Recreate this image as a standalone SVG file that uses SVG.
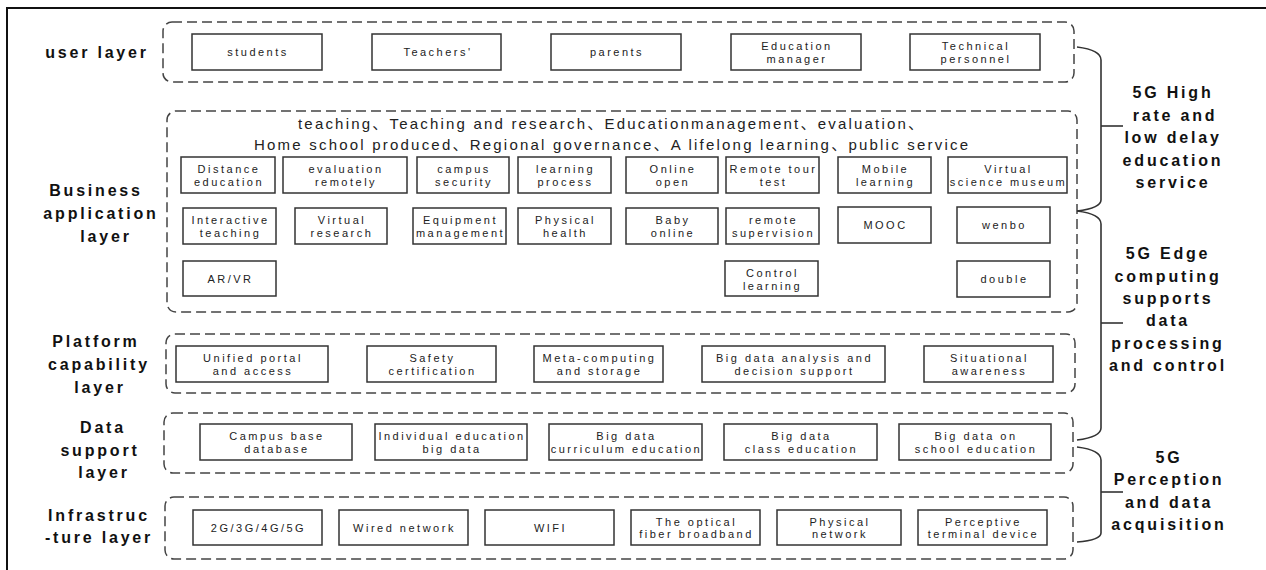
<svg xmlns="http://www.w3.org/2000/svg" width="1266" height="570" viewBox="0 0 1266 570">
<style>
.frame{fill:none;stroke:#111;stroke-width:2}
.grp{fill:none;stroke:#444;stroke-width:1.5;stroke-dasharray:10 5}
.box{fill:#fff;stroke:#333;stroke-width:1.5}
.t{font-family:"Liberation Sans","Noto Sans CJK SC",sans-serif;font-size:11px;letter-spacing:2.5px;fill:#222;text-anchor:middle}
.hdr{font-family:"Liberation Sans","Noto Sans CJK SC",sans-serif;font-size:15px;fill:#222}
.lbl{font-family:"Liberation Sans",sans-serif;font-size:16px;font-weight:bold;letter-spacing:2.8px;fill:#111;text-anchor:middle}
.br{fill:none;stroke:#333;stroke-width:1.6}
</style>
<rect width="1266" height="570" fill="#fff"/>
<path class="frame" d="M7,570 V8 H1266"/>

<!-- layer containers -->
<g id="layer-user"><rect class="grp" x="163" y="22" width="911" height="60" rx="9"/><text class="lbl" x="97" y="58">user layer</text></g>
<g id="layer-business"><rect class="grp" x="167" y="111" width="910" height="201" rx="9"/>
<text class="lbl" x="96" y="196">Business</text><text class="lbl" x="101" y="219">application</text><text class="lbl" x="106" y="242">layer</text>
<text class="hdr" x="298" y="128.5" textLength="625" lengthAdjust="spacing">teaching、Teaching and research、Educationmanagement、evaluation、</text>
<text class="hdr" x="254" y="150" textLength="714" lengthAdjust="spacing">Home school produced、Regional governance、A lifelong learning、public service</text>
</g>
<g id="layer-platform"><rect class="grp" x="166" y="334" width="909" height="59" rx="9"/>
<text class="lbl" x="96" y="347">Platform</text><text class="lbl" x="99" y="370">capability</text><text class="lbl" x="100" y="393">layer</text></g>
<g id="layer-data"><rect class="grp" x="164" y="413" width="909" height="60" rx="9"/>
<text class="lbl" x="103" y="433">Data</text><text class="lbl" x="100" y="456">support</text><text class="lbl" x="104" y="478">layer</text></g>
<g id="layer-infra"><rect class="grp" x="165" y="497" width="908" height="62" rx="9"/>
<text class="lbl" x="99" y="521">Infrastruc</text><text class="lbl" x="99" y="543">-ture layer</text></g>

<!-- user layer nodes -->
<g id="n-students"><rect class="box" x="192" y="34" width="130" height="36"/><text class="t" x="258" y="56">students</text></g>
<g id="n-teachers"><rect class="box" x="372" y="34" width="129" height="36"/><text class="t" x="438" y="56">Teachers'</text></g>
<g id="n-parents"><rect class="box" x="551" y="34" width="130" height="36"/><text class="t" x="617" y="56">parents</text></g>
<g id="n-edu-manager"><rect class="box" x="731" y="34" width="130" height="36"/><text class="t" x="797" y="50.2">Education</text><text class="t" x="797" y="62.6">manager</text></g>
<g id="n-tech-personnel"><rect class="box" x="910" y="34" width="130" height="36"/><text class="t" x="976" y="50.2">Technical</text><text class="t" x="976" y="62.6">personnel</text></g>

<!-- business row 1 -->
<g id="n-distance-education"><rect class="box" x="181" y="157" width="94" height="36"/><text class="t" x="229" y="173.2">Distance</text><text class="t" x="229" y="185.6">education</text></g>
<g id="n-evaluation-remotely"><rect class="box" x="283" y="157" width="124" height="36"/><text class="t" x="346" y="173.2">evaluation</text><text class="t" x="346" y="185.6">remotely</text></g>
<g id="n-campus-security"><rect class="box" x="417" y="157" width="92" height="36"/><text class="t" x="464" y="173.2">campus</text><text class="t" x="464" y="185.6">security</text></g>
<g id="n-learning-process"><rect class="box" x="518" y="157" width="93" height="36"/><text class="t" x="565.5" y="173.2">learning</text><text class="t" x="565.5" y="185.6">process</text></g>
<g id="n-online-open"><rect class="box" x="626" y="157" width="92" height="36"/><text class="t" x="673" y="173.2">Online</text><text class="t" x="673" y="185.6">open</text></g>
<g id="n-remote-tour-test"><rect class="box" x="726" y="157" width="93" height="36"/><text class="t" x="773.5" y="173.2">Remote tour</text><text class="t" x="773.5" y="185.6">test</text></g>
<g id="n-mobile-learning"><rect class="box" x="838" y="157" width="93" height="36"/><text class="t" x="885.5" y="173.2">Mobile</text><text class="t" x="885.5" y="185.6">learning</text></g>
<g id="n-virtual-museum"><rect class="box" x="948" y="157" width="119" height="36"/><text class="t" x="1008.5" y="173.2">Virtual</text><text class="t" x="1008.5" y="185.6" letter-spacing="2.1">science museum</text></g>

<!-- business row 2 -->
<g id="n-interactive-teaching"><rect class="box" x="183" y="208" width="93" height="36"/><text class="t" x="230.5" y="224.2">Interactive</text><text class="t" x="230.5" y="236.6">teaching</text></g>
<g id="n-virtual-research"><rect class="box" x="295" y="208" width="92" height="36"/><text class="t" x="342" y="224.2">Virtual</text><text class="t" x="342" y="236.6">research</text></g>
<g id="n-equipment-management"><rect class="box" x="413" y="208" width="93" height="36"/><text class="t" x="460.5" y="224.2">Equipment</text><text class="t" x="460.5" y="236.6" letter-spacing="1.9">management</text></g>
<g id="n-physical-health"><rect class="box" x="518" y="208" width="93" height="36"/><text class="t" x="565.5" y="224.2">Physical</text><text class="t" x="565.5" y="236.6">health</text></g>
<g id="n-baby-online"><rect class="box" x="626" y="208" width="92" height="36"/><text class="t" x="673" y="224.2">Baby</text><text class="t" x="673" y="236.6">online</text></g>
<g id="n-remote-supervision"><rect class="box" x="726" y="208" width="93" height="36"/><text class="t" x="773.5" y="224.2">remote</text><text class="t" x="773.5" y="236.6" letter-spacing="2.2">supervision</text></g>
<g id="n-mooc"><rect class="box" x="838" y="207" width="93" height="36"/><text class="t" x="885.5" y="229">MOOC</text></g>
<g id="n-wenbo"><rect class="box" x="957" y="207" width="93" height="36"/><text class="t" x="1004.5" y="229">wenbo</text></g>

<!-- business row 3 -->
<g id="n-arvr"><rect class="box" x="183" y="261" width="93" height="35"/><text class="t" x="230.5" y="282.5">AR/VR</text></g>
<g id="n-control-learning"><rect class="box" x="725" y="261" width="93" height="35"/><text class="t" x="772.5" y="277.2">Control</text><text class="t" x="772.5" y="289.6">learning</text></g>
<g id="n-double"><rect class="box" x="957" y="261" width="93" height="36"/><text class="t" x="1004.5" y="283">double</text></g>

<!-- platform -->
<g id="n-unified-portal"><rect class="box" x="176" y="346" width="152" height="36"/><text class="t" x="253" y="362.2">Unified portal</text><text class="t" x="253" y="374.6">and access</text></g>
<g id="n-safety-cert"><rect class="box" x="367" y="346" width="129" height="36"/><text class="t" x="432.5" y="362.2">Safety</text><text class="t" x="432.5" y="374.6">certification</text></g>
<g id="n-meta-computing"><rect class="box" x="534" y="346" width="129" height="36"/><text class="t" x="599.5" y="362.2">Meta-computing</text><text class="t" x="599.5" y="374.6">and storage</text></g>
<g id="n-big-data-analysis"><rect class="box" x="702" y="346" width="183" height="36"/><text class="t" x="794.5" y="362.2">Big data analysis and</text><text class="t" x="794.5" y="374.6">decision support</text></g>
<g id="n-situational"><rect class="box" x="924" y="346" width="129" height="36"/><text class="t" x="989.5" y="362.2">Situational</text><text class="t" x="989.5" y="374.6">awareness</text></g>

<!-- data -->
<g id="n-campus-db"><rect class="box" x="200" y="424" width="152" height="36"/><text class="t" x="277" y="440.2">Campus base</text><text class="t" x="277" y="452.6">database</text></g>
<g id="n-individual-bd"><rect class="box" x="375" y="424" width="152" height="36"/><text class="t" x="452" y="440.2" letter-spacing="2.3">Individual education</text><text class="t" x="452" y="452.6">big data</text></g>
<g id="n-curriculum-bd"><rect class="box" x="549" y="424" width="153" height="36"/><text class="t" x="626.5" y="440.2">Big data</text><text class="t" x="626.5" y="452.6" letter-spacing="2.2">curriculum education</text></g>
<g id="n-class-bd"><rect class="box" x="724" y="424" width="153" height="36"/><text class="t" x="801.5" y="440.2">Big data</text><text class="t" x="801.5" y="452.6">class education</text></g>
<g id="n-school-bd"><rect class="box" x="899" y="424" width="152" height="36"/><text class="t" x="976" y="440.2">Big data on</text><text class="t" x="976" y="452.6">school education</text></g>

<!-- infrastructure -->
<g id="n-2g5g"><rect class="box" x="193" y="510" width="129" height="35"/><text class="t" x="258.5" y="531.5">2G/3G/4G/5G</text></g>
<g id="n-wired"><rect class="box" x="339" y="510" width="129" height="35"/><text class="t" x="404.5" y="531.5">Wired network</text></g>
<g id="n-wifi"><rect class="box" x="485" y="510" width="129" height="35"/><text class="t" x="550.5" y="531.5">WIFI</text></g>
<g id="n-fiber"><rect class="box" x="631" y="510" width="129" height="35"/><text class="t" x="696.5" y="525.8">The optical</text><text class="t" x="696.5" y="538.2">fiber broadband</text></g>
<g id="n-physical-network"><rect class="box" x="777" y="510" width="124" height="35"/><text class="t" x="840" y="525.8">Physical</text><text class="t" x="840" y="538.2">network</text></g>
<g id="n-perceptive"><rect class="box" x="918" y="510" width="129" height="35"/><text class="t" x="983.5" y="525.8">Perceptive</text><text class="t" x="983.5" y="538.2">terminal device</text></g>

<!-- connectors (braces) -->
<g id="connectors">
<path class="br" d="M1077,47 Q1101,50 1101,60 L1101,200 Q1101,208 1077,211"/>
<path class="br" d="M1101,126 H1123"/>
<path class="br" d="M1077,211 Q1101,214 1101,224 L1101,428 Q1101,437 1077,440"/>
<path class="br" d="M1101,323 H1123"/>
<path class="br" d="M1077,447 Q1101,450 1101,460 L1101,533 Q1101,540 1077,542"/>
<path class="br" d="M1101,492 H1123"/>
</g>

<g id="label-high-rate">
<text class="lbl" x="1173" y="98">5G High</text><text class="lbl" x="1175" y="120.5">rate and</text><text class="lbl" x="1173" y="143">low delay</text><text class="lbl" x="1173" y="165.5">education</text><text class="lbl" x="1173" y="188">service</text>
</g>
<g id="label-edge">
<text class="lbl" x="1168" y="259">5G Edge</text><text class="lbl" x="1168" y="282">computing</text><text class="lbl" x="1168" y="304">supports</text><text class="lbl" x="1168" y="326">data</text><text class="lbl" x="1168" y="349">processing</text><text class="lbl" x="1168" y="371">and control</text>
</g>
<g id="label-perception">
<text class="lbl" x="1169" y="463">5G</text><text class="lbl" x="1169" y="485">Perception</text><text class="lbl" x="1169" y="508">and data</text><text class="lbl" x="1169" y="530">acquisition</text>
</g>
</svg>
